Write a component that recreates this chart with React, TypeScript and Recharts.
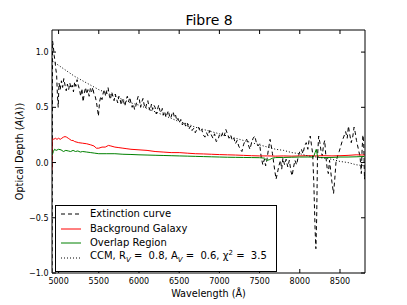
import React from 'react';
import { ComposedChart, Line, XAxis, YAxis, Legend, Label } from 'recharts';

// ---------- data ----------
const extinctionWl = [
  4918, 4925, 4935, 4945, 4955, 4965, 4975, 4985, 4995, 5005, 5020, 5035, 5050, 5065, 5080, 5095, 5110, 5125, 5140, 5155,
  5170, 5185, 5200, 5215, 5230, 5245, 5260, 5275, 5290, 5305, 5320, 5335, 5350, 5365, 5380, 5395, 5410, 5425, 5440, 5455,
  5470, 5485, 5495, 5510, 5525, 5540, 5555, 5570, 5585, 5600, 5615, 5630, 5645, 5660, 5675, 5690, 5705, 5720, 5735, 5750,
  5765, 5780, 5795, 5810, 5825, 5840, 5855, 5870, 5885, 5900, 5915, 5930, 5945, 5960, 5975, 5990, 6005, 6020, 6035, 6050,
  6065, 6080, 6095, 6110, 6125, 6140, 6155, 6170, 6185, 6200, 6215, 6230, 6245, 6260, 6275, 6290, 6305, 6320, 6335, 6350,
  6365, 6380, 6395, 6410, 6425, 6440, 6455, 6470, 6485, 6500, 6520, 6540, 6560, 6580, 6600, 6620, 6640, 6660, 6680, 6700,
  6720, 6740, 6760, 6780, 6800, 6820, 6840, 6860, 6880, 6900, 6920, 6940, 6960, 6980, 7000, 7020, 7040, 7060, 7080, 7100,
  7120, 7140, 7160, 7180, 7200, 7220, 7240, 7260, 7280, 7300, 7320, 7340, 7360, 7380, 7400, 7420, 7440, 7460, 7480, 7500,
  7520, 7540, 7560, 7575, 7590, 7610, 7630, 7645, 7660, 7675, 7690, 7705, 7720, 7740, 7760, 7775, 7790, 7810, 7830, 7850,
  7870, 7890, 7905, 7920, 7940, 7960, 7980, 8000, 8020, 8040, 8060, 8080, 8100, 8115, 8130, 8145, 8160, 8175, 8190, 8200,
  8210, 8220, 8235, 8250, 8265, 8280, 8295, 8310, 8325, 8340, 8355, 8370, 8385, 8400, 8420, 8435, 8450, 8470, 8490, 8510,
  8530, 8550, 8570, 8590, 8605, 8620, 8640, 8660, 8675, 8690, 8705, 8720, 8735, 8750, 8765, 8775, 8785, 8795, 8805, 8811,
];
const extinctionVal = [
  -1.5, 1.1, 1.05, 0.97, 0.92, 0.85, 0.8, 0.62, 0.5, 0.72, 0.66, 0.74, 0.68, 0.76, 0.7, 0.65, 0.71, 0.66, 0.72, 0.67,
  0.7, 0.64, 0.73, 0.69, 0.75, 0.7, 0.66, 0.6, 0.67, 0.55, 0.63, 0.68, 0.62, 0.66, 0.6, 0.67, 0.64, 0.68, 0.62, 0.6,
  0.55, 0.48, 0.42, 0.55, 0.6, 0.57, 0.63, 0.66, 0.6, 0.65, 0.68, 0.61, 0.57, 0.64, 0.6, 0.56, 0.62, 0.58, 0.54, 0.6,
  0.57, 0.52, 0.58, 0.55, 0.51, 0.57, 0.6, 0.55, 0.59, 0.54, 0.5, 0.53, 0.48, 0.51, 0.56, 0.6, 0.57, 0.5, 0.55, 0.58,
  0.52, 0.49, 0.53, 0.56, 0.5, 0.47, 0.53, 0.48, 0.52, 0.5, 0.44, 0.48, 0.52, 0.47, 0.45, 0.49, 0.43, 0.46, 0.41, 0.44,
  0.47, 0.42, 0.4, 0.44, 0.46, 0.41, 0.43, 0.38, 0.4, 0.36, 0.39, 0.34, 0.37, 0.33, 0.36, 0.3, 0.33, 0.29, 0.31, 0.27,
  0.3, 0.32, 0.28, 0.3, 0.25, 0.23, 0.27, 0.24, 0.29, 0.25, 0.22, 0.26, 0.19, 0.2, 0.25, 0.23, 0.27, 0.24, 0.3, 0.26,
  0.22, 0.25, 0.2, 0.22, 0.17, 0.2, 0.15, 0.12, 0.1, 0.16, 0.2, 0.21, 0.16, 0.12, 0.18, 0.22, 0.24, 0.18, 0.15, 0.17,
  0.05, -0.02, 0.03, -0.03, 0.02, 0.12, 0.21, 0.15, 0.08, 0.0, -0.08, -0.15, -0.1, -0.03, 0.02, -0.06, 0.04, -0.02, 0.03, -0.04,
  0.02, -0.08, -0.12, -0.05, 0.02, -0.02, 0.05, 0.1, 0.12, 0.08, 0.15, 0.18, 0.12, 0.2, 0.24, 0.16, 0.08, -0.2, -0.6, -0.78,
  -0.5, 0.05, 0.24, 0.18, 0.1, 0.06, 0.16, 0.2, 0.05, -0.05, -0.1, 0.02, -0.08, -0.18, -0.28, -0.15, 0.0, 0.06, 0.1, 0.15,
  0.2, 0.24, 0.28, 0.22, 0.33, 0.26, 0.18, 0.24, 0.32, 0.27, 0.2, 0.15, 0.1, 0.05, -0.1, 0.12, 0.25, 0.18, -0.15, -0.1,
];

const backgroundWl = [
  4918, 4922, 4940, 4960, 4980, 5000, 5020, 5040, 5060, 5080, 5100, 5120, 5140, 5160, 5180, 5200, 5250, 5300, 5350, 5400,
  5440, 5470, 5500, 5540, 5580, 5620, 5650, 5700, 5750, 5800, 5850, 5900, 6000, 6100, 6200, 6300, 6400, 6500, 6600, 6700,
  6800, 6900, 7000, 7100, 7200, 7300, 7400, 7500, 7600, 7700, 7800, 7900, 8000, 8100, 8200, 8300, 8400, 8500, 8600, 8700, 8811,
];
const backgroundVal = [
  -0.07, 0.22, 0.21, 0.22, 0.21, 0.22, 0.21, 0.22, 0.23, 0.235, 0.23, 0.22, 0.21, 0.2, 0.2, 0.19, 0.18, 0.175, 0.17, 0.16,
  0.15, 0.13, 0.13, 0.14, 0.14, 0.155, 0.15, 0.14, 0.135, 0.13, 0.125, 0.12, 0.115, 0.11, 0.1, 0.095, 0.09, 0.09, 0.085, 0.08,
  0.078, 0.075, 0.072, 0.07, 0.068, 0.065, 0.062, 0.06, 0.06, 0.058, 0.06, 0.058, 0.06, 0.062, 0.06, 0.062, 0.06, 0.062, 0.065, 0.07, 0.068,
];

const overlapWl = [
  4922, 4935, 4950, 4970, 5000, 5030, 5060, 5090, 5120, 5150, 5180, 5210, 5240, 5270, 5300, 5350, 5400, 5450, 5500, 5600,
  5700, 5800, 5900, 6000, 6100, 6200, 6300, 6400, 6500, 6600, 6700, 6800, 6900, 7000, 7100, 7200, 7300, 7400, 7500, 7560,
  7590, 7620, 7660, 7700, 7800, 7900, 8000, 8100, 8170, 8190, 8205, 8220, 8240, 8300, 8400, 8500, 8600, 8700, 8800, 8811,
];
const overlapVal = [
  0.07, 0.1, 0.12, 0.11, 0.12, 0.115, 0.1, 0.11, 0.105, 0.1, 0.11, 0.1, 0.105, 0.095, 0.1, 0.095, 0.09, 0.085, 0.08, 0.08,
  0.08, 0.075, 0.073, 0.07, 0.068, 0.066, 0.064, 0.062, 0.06, 0.058, 0.056, 0.054, 0.052, 0.05, 0.048, 0.047, 0.046, 0.045, 0.044, 0.04,
  0.02, 0.025, 0.04, 0.045, 0.046, 0.048, 0.05, 0.05, 0.05, 0.09, 0.12, 0.06, 0.045, 0.045, 0.046, 0.05, 0.05, 0.052, 0.055, 0.045,
];

const ccmWl = [
  4925, 5000, 5100, 5200, 5300, 5400, 5500, 5600, 5700, 5800, 5900, 6000, 6100, 6200, 6300, 6400, 6500, 6600, 6700, 6800,
  6900, 7000, 7100, 7200, 7300, 7400, 7500, 7600, 7700, 7800, 7900, 8000, 8100, 8200, 8300, 8400, 8500, 8600, 8700, 8811,
];
const ccmVal = [
  0.92, 0.88, 0.83, 0.78, 0.74, 0.7, 0.66, 0.63, 0.6, 0.57, 0.54, 0.52, 0.49, 0.46, 0.43, 0.4, 0.37, 0.35, 0.32, 0.3,
  0.28, 0.26, 0.24, 0.22, 0.2, 0.18, 0.16, 0.14, 0.12, 0.11, 0.09, 0.08, 0.06, 0.05, 0.04, 0.03, 0.01, 0.0, -0.02, -0.03,
];

const xTicks = [5000, 5500, 6000, 6500, 7000, 7500, 8000, 8500];
const yTicks = [-1.0, -0.5, 0.0, 0.5, 1.0];
const xDomain = [4918, 8811];
const yDomain = [-1.0, 1.2];

const seriesNames = ['Extinction curve', 'Background Galaxy', 'Overlap Region', 'CCM'];

const toPoints = (wl: number[], val: number[]) => wl.map((w, i) => ({ wl: w, v: val[i] }));
const extinctionPts = toPoints(extinctionWl, extinctionVal);
const backgroundPts = toPoints(backgroundWl, backgroundVal);
const overlapPts = toPoints(overlapWl, overlapVal);
const ccmPts = toPoints(ccmWl, ccmVal);

// ---------- styling ----------
const FONT = '"DejaVu Sans", "Bitstream Vera Sans", sans-serif';
const TICK_LEN = 4;
const fmtY = (v: number) => v.toFixed(1).replace('-', '\u2212');

const BottomTick = (props: any) => {
  const { x, y, payload } = props;
  return (
    <g>
      <line x1={x} y1={y} x2={x} y2={y - TICK_LEN} stroke="#000" strokeWidth={1} />
      <text x={x} y={y + 11} textAnchor="middle" fontSize={8} fontFamily={FONT} fill="#000">
        {payload.value}
      </text>
    </g>
  );
};
const TopTick = (props: any) => {
  const { x, y } = props;
  return <line x1={x} y1={y} x2={x} y2={y + TICK_LEN} stroke="#000" strokeWidth={1} />;
};
const LeftTick = (props: any) => {
  const { x, y, payload } = props;
  return (
    <g>
      <line x1={x} y1={y} x2={x + TICK_LEN} y2={y} stroke="#000" strokeWidth={1} />
      <text x={x - 3.5} y={y + 3} textAnchor="end" fontSize={8} fontFamily={FONT} fill="#000">
        {fmtY(payload.value)}
      </text>
    </g>
  );
};
const RightTick = (props: any) => {
  const { x, y } = props;
  return <line x1={x} y1={y} x2={x - TICK_LEN} y2={y} stroke="#000" strokeWidth={1} />;
};

const XLabel = (props: any) => {
  const vb = props.viewBox || { x: 52, y: 273, width: 313, height: 20 };
  return (
    <text x={vb.x + vb.width / 2} y={297} textAnchor="middle" fontSize={9.7} fontFamily={FONT} fill="#000">
      Wavelength (Å)
    </text>
  );
};
const YLabel = (props: any) => {
  const vb = props.viewBox || { x: 12, y: 30, width: 40, height: 243 };
  const cx = 23;
  const cy = vb.y + vb.height / 2;
  return (
    <text
      x={cx}
      y={cy}
      transform={`rotate(-90 ${cx} ${cy})`}
      textAnchor="middle"
      fontSize={9.7}
      fontFamily={FONT}
      fill="#000"
    >
      Optical Depth (<tspan fontStyle="italic">A</tspan>(<tspan fontStyle="italic">λ</tspan>))
    </text>
  );
};

const LegendSample = ({ kind }: { kind: number }) => {
  const common = { x1: 2, y1: 5, x2: 22, y2: 5, strokeWidth: 1 };
  if (kind === 0) return <svg width={24} height={10}><line {...common} stroke="#000" strokeDasharray="4 3" /></svg>;
  if (kind === 1) return <svg width={24} height={10}><line {...common} stroke="#ff0000" /></svg>;
  if (kind === 2) return <svg width={24} height={10}><line {...common} stroke="#008000" /></svg>;
  return <svg width={24} height={10}><line {...common} stroke="#000" strokeDasharray="1 2" /></svg>;
};

const LegendContent = () => {
  const rowTops = [1, 16, 30, 45];
  const sub = { fontSize: 7, fontStyle: 'italic' as const, verticalAlign: 'sub' as const };
  const sup = { fontSize: 7, verticalAlign: 'super' as const, lineHeight: 0 };
  const labels: React.ReactNode[] = [
    seriesNames[0],
    seriesNames[1],
    seriesNames[2],
    <span>
      {seriesNames[3]}, R<span style={sub}>V</span>{' =  0.8, A'}<span style={sub}>V</span>
      {' =  0.6, χ'}<span style={sup}>2</span>{' =  3.5'}
    </span>,
  ];
  return (
    <div
      style={{
        position: 'relative',
        width: 222,
        height: 67,
        boxSizing: 'border-box',
        border: '1px solid #000',
        background: '#fff',
        fontFamily: FONT,
        fontSize: 10,
        color: '#000',
      }}
    >
      {labels.map((lab, i) => (
        <div
          key={i}
          style={{
            position: 'absolute',
            left: 3,
            top: rowTops[i],
            height: 14,
            display: 'flex',
            alignItems: 'center',
            whiteSpace: 'pre',
            lineHeight: '14px',
          }}
        >
          <LegendSample kind={i} />
          <span style={{ marginLeft: 7 }}>{lab}</span>
        </div>
      ))}
    </div>
  );
};

export default function App() {
  return (
    <div style={{ position: 'absolute', left: 0, top: 0, width: 407, height: 305, background: '#fff' }}>
      <div
        style={{
          position: 'absolute',
          left: 0,
          top: 11,
          width: 418,
          textAlign: 'center',
          fontFamily: FONT,
          fontSize: 14,
          lineHeight: '18px',
          color: '#000',
          zIndex: 2,
        }}
      >
        Fibre 8
      </div>
      <ComposedChart width={407} height={305} margin={{ top: 20, right: 32, bottom: 12, left: 12 }}>
        <XAxis
          dataKey="wl"
          type="number"
          domain={xDomain}
          ticks={xTicks}
          allowDataOverflow
          height={20}
          tickSize={0}
          tickMargin={0}
          tickLine={false}
          tick={<BottomTick />}
          axisLine={{ stroke: '#000', strokeWidth: 1 }}
          interval={0}
        >
          <Label content={<XLabel />} />
        </XAxis>
        <XAxis
          xAxisId="top"
          orientation="top"
          dataKey="wl"
          type="number"
          domain={xDomain}
          ticks={xTicks}
          allowDataOverflow
          height={10}
          tickSize={0}
          tickMargin={0}
          tickLine={false}
          tick={<TopTick />}
          axisLine={{ stroke: '#000', strokeWidth: 1 }}
          interval={0}
        />
        <YAxis
          type="number"
          domain={yDomain}
          ticks={yTicks}
          allowDataOverflow
          width={40}
          tickSize={0}
          tickMargin={0}
          tickLine={false}
          tick={<LeftTick />}
          axisLine={{ stroke: '#000', strokeWidth: 1 }}
          interval={0}
        >
          <Label content={<YLabel />} />
        </YAxis>
        <YAxis
          yAxisId="right"
          orientation="right"
          type="number"
          domain={yDomain}
          ticks={yTicks}
          allowDataOverflow
          width={10}
          tickSize={0}
          tickMargin={0}
          tickLine={false}
          tick={<RightTick />}
          axisLine={{ stroke: '#000', strokeWidth: 1 }}
          interval={0}
        />
        <Line
          data={extinctionPts}
          dataKey="v"
          name={seriesNames[0]}
          type="linear"
          stroke="#000"
          strokeWidth={1}
          strokeDasharray="4 3"
          dot={false}
          activeDot={false}
          isAnimationActive={false}
        />
        <Line
          data={backgroundPts}
          dataKey="v"
          name={seriesNames[1]}
          type="linear"
          stroke="#ff0000"
          strokeWidth={1}
          dot={false}
          activeDot={false}
          isAnimationActive={false}
        />
        <Line
          data={overlapPts}
          dataKey="v"
          name={seriesNames[2]}
          type="linear"
          stroke="#008000"
          strokeWidth={1}
          dot={false}
          activeDot={false}
          isAnimationActive={false}
        />
        <Line
          data={ccmPts}
          dataKey="v"
          name={seriesNames[3]}
          type="linear"
          stroke="#000"
          strokeWidth={1}
          strokeDasharray="1 2"
          dot={false}
          activeDot={false}
          isAnimationActive={false}
        />
        <Legend
          layout="horizontal"
          verticalAlign="middle"
          align="center"
          content={<LegendContent />}
          wrapperStyle={{ position: 'absolute', left: 55, top: 205, width: 222, height: 67, margin: 0, padding: 0 }}
        />
      </ComposedChart>
    </div>
  );
}
